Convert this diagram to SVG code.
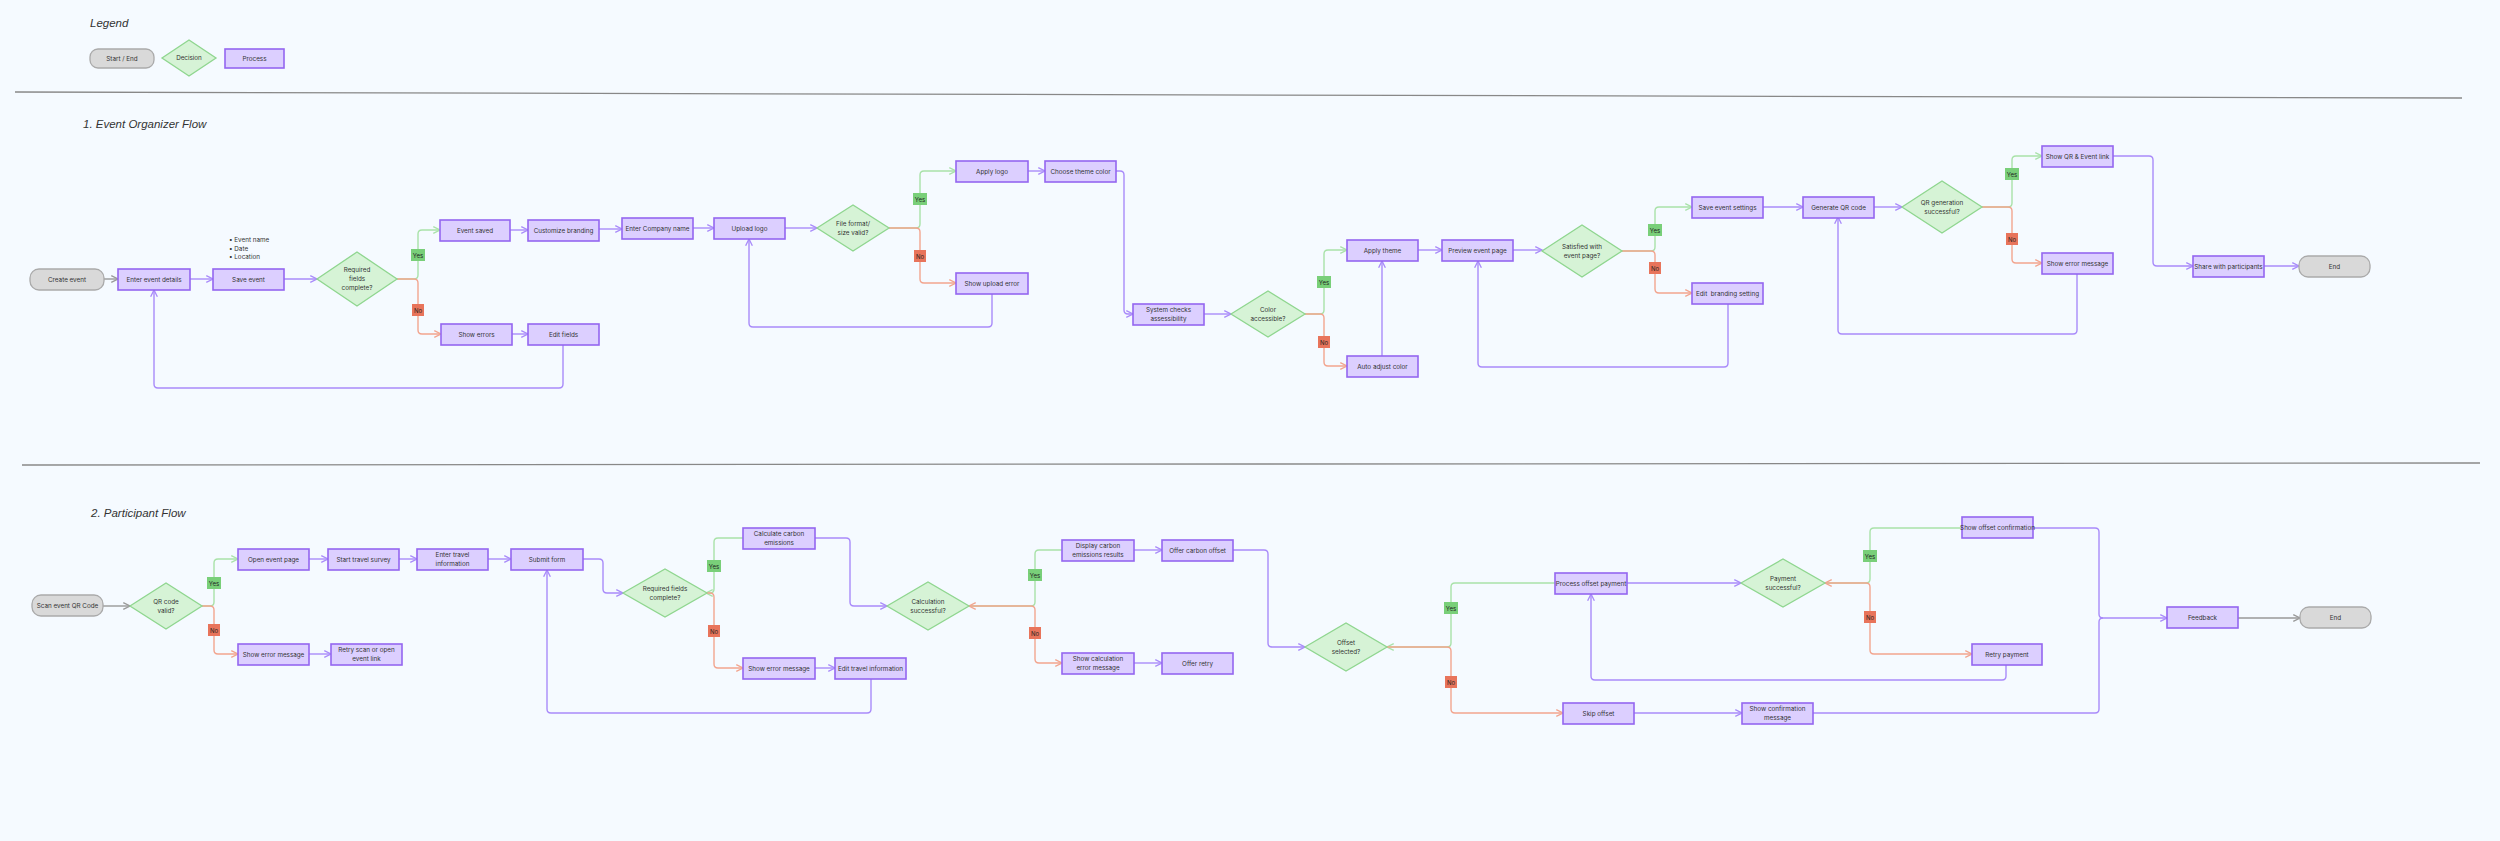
<svg xmlns="http://www.w3.org/2000/svg" width="2500" height="841" viewBox="0 0 2500 841">
<style>
.p{fill:#dccfff;stroke:#9466f0;stroke-width:1.6}
.d{fill:#d6f3d6;stroke:#8fd68f;stroke-width:1.3}
.s{fill:#d9d9d9;stroke:#aaaaaa;stroke-width:1.3}
text{font-family:Inter,"Liberation Sans",sans-serif;font-size:6.3px;fill:#333;text-anchor:middle;dominant-baseline:central}
.h{font-family:"Liberation Sans",sans-serif;font-style:italic;font-size:11.5px;text-anchor:start;fill:#333}
.c{fill:none;stroke-width:1.4}
.pu{stroke:#a98bfa;marker-end:url(#ap)}
.pn{stroke:#a98bfa}
.g{stroke:#a9e2a9}
.gm{stroke:#a9e2a9;marker-end:url(#ag)}
.r{stroke:#f2a58f;marker-end:url(#ar)}
.rs{marker-start:url(#ar)}
.gr{stroke:#999;marker-end:url(#agr)}
.ly{fill:#79cf79}.ln{fill:#e8745b}
.lt{font-size:6px;fill:#222}
</style>
<defs>
<marker id="ap" viewBox="0 0 10 10" refX="9" refY="5" markerWidth="6" markerHeight="6" orient="auto-start-reverse"><path d="M1,1 L9,5 L1,9" fill="none" stroke="#a98bfa" stroke-width="1.6"/></marker>
<marker id="ag" viewBox="0 0 10 10" refX="9" refY="5" markerWidth="6" markerHeight="6" orient="auto-start-reverse"><path d="M1,1 L9,5 L1,9" fill="none" stroke="#a9e2a9" stroke-width="1.6"/></marker>
<marker id="ar" viewBox="0 0 10 10" refX="9" refY="5" markerWidth="6" markerHeight="6" orient="auto-start-reverse"><path d="M1,1 L9,5 L1,9" fill="none" stroke="#f2a58f" stroke-width="1.6"/></marker>
<marker id="agr" viewBox="0 0 10 10" refX="9" refY="5" markerWidth="6" markerHeight="6" orient="auto-start-reverse"><path d="M1,1 L9,5 L1,9" fill="none" stroke="#999" stroke-width="1.6"/></marker>
</defs>
<rect width="2500" height="841" fill="#f5faff"/>

<g id="legend">
<text class="h" x="90" y="23">Legend</text>
<rect class="s" x="90" y="49" width="64" height="19" rx="8"/><text x="122" y="58.5">Start / End</text>
<polygon class="d" points="162,58 189,40 216,58 189,76"/><text x="189" y="58">Decision</text>
<rect class="p" x="225" y="49" width="59" height="19"/><text x="254.5" y="58.5">Process</text>
</g>
<g id="dividers">
<line x1="15" y1="92" x2="2462" y2="98" stroke="#888" stroke-width="1.3"/>
<line x1="22" y1="465" x2="2480" y2="463" stroke="#888" stroke-width="1.3"/>
<text class="h" x="83" y="124">1. Event Organizer Flow</text>
<text class="h" x="91" y="513">2. Participant Flow</text>
</g>

<g id="connectors">
<path class="c gr" d="M104,279 H118"/>
<path class="c pu" d="M190,279 H213"/>
<path class="c pu" d="M284,279 H317"/>
<path class="c gm" d="M397,279 H414 Q418,279 418,275 V234 Q418,230 422,230 H440"/>
<path class="c r" d="M397,279 H414 Q418,279 418,283 V330 Q418,334 422,334 H441"/>
<path class="c pu" d="M510,230 H528"/>
<path class="c pu" d="M599,229 H622"/>
<path class="c pu" d="M512,334 H528"/>
<path class="c pu" d="M563,345 V384 Q563,388 559,388 H158 Q154,388 154,384 V290"/>
<path class="c pu" d="M693,228 H714"/>
<path class="c pu" d="M785,228 H817"/>
<path class="c gm" d="M889,228 H916 Q920,228 920,224 V175 Q920,171 924,171 H956"/>
<path class="c r" d="M889,228 H916 Q920,228 920,232 V279 Q920,283 924,283 H956"/>
<path class="c pu" d="M1028,171 H1045"/>
<path class="c pu" d="M1116,171 H1120 Q1124,171 1124,175 V310 Q1124,314 1128,314 H1133"/>
<path class="c pu" d="M992,294 V323 Q992,327 988,327 H753 Q749,327 749,323 V239"/>
<path class="c pu" d="M1204,314 H1231"/>
<path class="c gm" d="M1305,314 H1320 Q1324,314 1324,310 V254 Q1324,250 1328,250 H1347"/>
<path class="c r" d="M1305,314 H1320 Q1324,314 1324,318 V362 Q1324,366 1328,366 H1347"/>
<path class="c pu" d="M1382,356 V261"/>
<path class="c pu" d="M1418,250 H1442"/>
<path class="c pu" d="M1513,250 H1542"/>
<path class="c gm" d="M1622,251 H1651 Q1655,251 1655,247 V211 Q1655,207 1659,207 H1692"/>
<path class="c r" d="M1622,251 H1651 Q1655,251 1655,255 V289 Q1655,293 1659,293 H1692"/>
<path class="c pu" d="M1728,304 V363 Q1728,367 1724,367 H1482 Q1478,367 1478,363 V261"/>
<path class="c pu" d="M1763,207 H1803"/>
<path class="c pu" d="M1874,207 H1902"/>
<path class="c gm" d="M1982,207 H2008 Q2012,207 2012,203 V160 Q2012,156 2016,156 H2042"/>
<path class="c r" d="M1982,207 H2008 Q2012,207 2012,211 V259 Q2012,263 2016,263 H2042"/>
<path class="c pu" d="M2077,274 V330 Q2077,334 2073,334 H1842 Q1838,334 1838,330 V217"/>
<path class="c pu" d="M2113,156 H2149 Q2153,156 2153,160 V262 Q2153,266 2157,266 H2193"/>
<path class="c pu" d="M2264,266 H2299"/>

<path class="c gr" d="M103,606 H130"/>
<path class="c gm" d="M202,606 H210 Q214,606 214,602 V563 Q214,559 218,559 H238"/>
<path class="c r" d="M202,606 H210 Q214,606 214,610 V650 Q214,654 218,654 H238"/>
<path class="c pu" d="M309,559 H328"/>
<path class="c pu" d="M399,559 H417"/>
<path class="c pu" d="M488,559 H511"/>
<path class="c pu" d="M309,654 H331"/>
<path class="c pu" d="M583,559 H599 Q603,559 603,563 V589 Q603,593 607,593 H623"/>
<path class="c gm" d="M743,538 H718 Q714,538 714,542 V589 Q714,593 710,593 H706"/>
<path class="c r" d="M706,593 H710 Q714,593 714,597 V664 Q714,668 718,668 H743"/>
<path class="c pu" d="M815,668 H835"/>
<path class="c pu" d="M871,679 V709 Q871,713 867,713 H551 Q547,713 547,709 V570"/>
<path class="c pu" d="M815,538 H846 Q850,538 850,542 V602 Q850,606 854,606 H887"/>
<path class="c g" d="M1062,550 H1039 Q1035,550 1035,554 V602 Q1035,606 1031,606 H969"/>
<path class="c r rs" d="M969,606 H1031 Q1035,606 1035,610 V659 Q1035,663 1039,663 H1062"/>
<path class="c pu" d="M1134,550 H1162"/>
<path class="c pu" d="M1134,663 H1162"/>
<path class="c pu" d="M1233,550 H1264 Q1268,550 1268,554 V643 Q1268,647 1272,647 H1305"/>
<path class="c gm" d="M1555,583 H1455 Q1451,583 1451,587 V643 Q1451,647 1447,647 H1387"/>
<path class="c r" d="M1387,647 H1447 Q1451,647 1451,651 V709 Q1451,713 1455,713 H1563"/>
<path class="c pu" d="M1627,583 H1741"/>
<path class="c g" d="M1962,528 H1874 Q1870,528 1870,532 V579 Q1870,583 1866,583 H1825"/>
<path class="c r rs" d="M1825,583 H1866 Q1870,583 1870,587 V650 Q1870,654 1874,654 H1972"/>
<path class="c pu" d="M2006,665 V676 Q2006,680 2002,680 H1595 Q1591,680 1591,676 V594"/>
<path class="c pu" d="M1634,713 H1742"/>
<path class="c pu" d="M2033,528 H2095 Q2099,528 2099,532 V614 Q2099,618 2103,618 H2167"/>
<path class="c pn" d="M1813,713 H2095 Q2099,713 2099,709 V622 Q2099,618 2103,618"/>
<path class="c gr" d="M2238,618 H2300"/>

<g id="labels">
<rect class="ly" x="411" y="249" width="14" height="12"/><text class="lt" x="418" y="255">Yes</text>
<rect class="ln" x="412" y="304" width="12" height="12"/><text class="lt" x="418" y="310">No</text>
<rect class="ly" x="913" y="193" width="14" height="12"/><text class="lt" x="920" y="199">Yes</text>
<rect class="ln" x="914" y="250" width="12" height="12"/><text class="lt" x="920" y="256">No</text>
<rect class="ly" x="1317" y="276" width="14" height="12"/><text class="lt" x="1324" y="282">Yes</text>
<rect class="ln" x="1318" y="336" width="12" height="12"/><text class="lt" x="1324" y="342">No</text>
<rect class="ly" x="1648" y="224" width="14" height="12"/><text class="lt" x="1655" y="230">Yes</text>
<rect class="ln" x="1649" y="262" width="12" height="12"/><text class="lt" x="1655" y="268">No</text>
<rect class="ly" x="2005" y="168" width="14" height="12"/><text class="lt" x="2012" y="174">Yes</text>
<rect class="ln" x="2006" y="233" width="12" height="12"/><text class="lt" x="2012" y="239">No</text>
<rect class="ly" x="207" y="577" width="14" height="12"/><text class="lt" x="214" y="583">Yes</text>
<rect class="ln" x="208" y="624" width="12" height="12"/><text class="lt" x="214" y="630">No</text>
<rect class="ly" x="707" y="560" width="14" height="12"/><text class="lt" x="714" y="566">Yes</text>
<rect class="ln" x="708" y="625" width="12" height="12"/><text class="lt" x="714" y="631">No</text>
<rect class="ly" x="1028" y="569" width="14" height="12"/><text class="lt" x="1035" y="575">Yes</text>
<rect class="ln" x="1029" y="627" width="12" height="12"/><text class="lt" x="1035" y="633">No</text>
<rect class="ly" x="1444" y="602" width="14" height="12"/><text class="lt" x="1451" y="608">Yes</text>
<rect class="ln" x="1445" y="676" width="12" height="12"/><text class="lt" x="1451" y="682">No</text>
<rect class="ly" x="1863" y="550" width="14" height="12"/><text class="lt" x="1870" y="556">Yes</text>
<rect class="ln" x="1864" y="611" width="12" height="12"/><text class="lt" x="1870" y="617">No</text>
</g>
</g>

<g id="note-details"><text x="229" y="240" style="text-anchor:start">•  Event name</text><text x="229" y="249" style="text-anchor:start">•  Date</text><text x="229" y="257" style="text-anchor:start">•  Location</text></g>

<g id="n-create"><rect class="s" x="30" y="269" width="74" height="21" rx="9"/><text x="67" y="279.5">Create event</text></g>
<g id="n-enter"><rect class="p" x="118" y="269" width="72" height="21"/><text x="154" y="279.5">Enter event details</text></g>
<g id="n-save"><rect class="p" x="213" y="269" width="71" height="21"/><text x="248.5" y="279.5">Save event</text></g>
<g id="d-req"><polygon class="d" points="317,279 357,252 397,279 357,306"/><text x="357" y="270">Required</text><text x="357" y="279">fields</text><text x="357" y="288">complete?</text></g>
<g id="n-saved"><rect class="p" x="440" y="220" width="70" height="21"/><text x="475" y="230.5">Event saved</text></g>
<g id="n-custom"><rect class="p" x="528" y="220" width="71" height="21"/><text x="563.5" y="230.5">Customize branding</text></g>
<g id="n-errors"><rect class="p" x="441" y="324" width="71" height="21"/><text x="476.5" y="334.5">Show errors</text></g>
<g id="n-editf"><rect class="p" x="528" y="324" width="71" height="21"/><text x="563.5" y="334.5">Edit fields</text></g>
<g id="n-company"><rect class="p" x="622" y="218" width="71" height="21"/><text x="657.5" y="228.5">Enter Company name</text></g>
<g id="n-upload"><rect class="p" x="714" y="218" width="71" height="21"/><text x="749.5" y="228.5">Upload logo</text></g>
<g id="d-file"><polygon class="d" points="817,228 853,205 889,228 853,251"/><text x="853" y="224">File format/</text><text x="853" y="233">size valid?</text></g>
<g id="n-applylogo"><rect class="p" x="956" y="161" width="72" height="21"/><text x="992" y="171.5">Apply logo</text></g>
<g id="n-theme"><rect class="p" x="1045" y="161" width="71" height="21"/><text x="1080.5" y="171.5">Choose theme color</text></g>
<g id="n-uperr"><rect class="p" x="956" y="273" width="72" height="21"/><text x="992" y="283.5">Show upload error</text></g>
<g id="n-syscheck"><rect class="p" x="1133" y="304" width="71" height="21"/><text x="1168.5" y="310">System checks</text><text x="1168.5" y="319">assessibility</text></g>
<g id="d-color"><polygon class="d" points="1231,314 1268,291 1305,314 1268,337"/><text x="1268" y="310">Color</text><text x="1268" y="319">accessible?</text></g>
<g id="n-applytheme"><rect class="p" x="1347" y="240" width="71" height="21"/><text x="1382.5" y="250.5">Apply theme</text></g>
<g id="n-auto"><rect class="p" x="1347" y="356" width="71" height="21"/><text x="1382.5" y="366.5">Auto adjust color</text></g>
<g id="n-preview"><rect class="p" x="1442" y="240" width="71" height="21"/><text x="1477.5" y="250.5">Preview event page</text></g>
<g id="d-sat"><polygon class="d" points="1542,251 1582,225 1622,251 1582,277"/><text x="1582" y="246.5">Satisfied with</text><text x="1582" y="255.5">event page?</text></g>
<g id="n-savesettings"><rect class="p" x="1692" y="197" width="71" height="21"/><text x="1727.5" y="207.5">Save event settings</text></g>
<g id="n-editbrand"><rect class="p" x="1692" y="283" width="71" height="21"/><text x="1727.5" y="293.5" style="white-space:pre">Edit  branding setting</text></g>
<g id="n-genqr"><rect class="p" x="1803" y="197" width="71" height="21"/><text x="1838.5" y="207.5">Generate QR code</text></g>
<g id="d-qr"><polygon class="d" points="1902,207 1942,181 1982,207 1942,233"/><text x="1942" y="202.5">QR generation</text><text x="1942" y="211.5">successful?</text></g>
<g id="n-showqr"><rect class="p" x="2042" y="146" width="71" height="21"/><text x="2077.5" y="156.5">Show QR &amp; Event link</text></g>
<g id="n-showerr"><rect class="p" x="2042" y="253" width="71" height="21"/><text x="2077.5" y="263.5">Show error message</text></g>
<g id="n-share"><rect class="p" x="2193" y="256" width="71" height="21"/><text x="2228.5" y="266.5">Share with participants</text></g>
<g id="n-end1"><rect class="s" x="2299" y="256" width="71" height="21" rx="9"/><text x="2334.5" y="266.5">End</text></g>

<g id="n-scan"><rect class="s" x="32" y="595" width="71" height="21" rx="9"/><text x="67.5" y="605.5">Scan event QR Code</text></g>
<g id="d-qrvalid"><polygon class="d" points="130,606 166,583 202,606 166,629"/><text x="166" y="601.5">QR code</text><text x="166" y="610.5">valid?</text></g>
<g id="n-open"><rect class="p" x="238" y="549" width="71" height="21"/><text x="273.5" y="559.5">Open event page</text></g>
<g id="n-start"><rect class="p" x="328" y="549" width="71" height="21"/><text x="363.5" y="559.5">Start travel survey</text></g>
<g id="n-entertravel"><rect class="p" x="417" y="549" width="71" height="21"/><text x="452.5" y="555">Enter travel</text><text x="452.5" y="564">information</text></g>
<g id="n-submit"><rect class="p" x="511" y="549" width="72" height="21"/><text x="547" y="559.5">Submit form</text></g>
<g id="n-showerr2"><rect class="p" x="238" y="644" width="71" height="21"/><text x="273.5" y="654.5">Show error message</text></g>
<g id="n-retry"><rect class="p" x="331" y="644" width="71" height="21"/><text x="366.5" y="650">Retry scan or open</text><text x="366.5" y="659">event link</text></g>
<g id="d-reqf"><polygon class="d" points="623,593 665,569 707,593 665,617"/><text x="665" y="588.5">Required fields</text><text x="665" y="597.5">complete?</text></g>
<g id="n-calc"><rect class="p" x="743" y="528" width="72" height="21"/><text x="779" y="534">Calculate carbon</text><text x="779" y="543">emissions</text></g>
<g id="n-showerr3"><rect class="p" x="743" y="658" width="72" height="21"/><text x="779" y="668.5">Show error message</text></g>
<g id="n-edittravel"><rect class="p" x="835" y="658" width="71" height="21"/><text x="870.5" y="668.5">Edit travel information</text></g>
<g id="d-calc"><polygon class="d" points="887,606 928,582 969,606 928,630"/><text x="928" y="601.5">Calculation</text><text x="928" y="610.5">successful?</text></g>
<g id="n-display"><rect class="p" x="1062" y="540" width="72" height="21"/><text x="1098" y="546">Display carbon</text><text x="1098" y="555">emissions results</text></g>
<g id="n-offer"><rect class="p" x="1162" y="540" width="71" height="21"/><text x="1197.5" y="550.5">Offer carbon offset</text></g>
<g id="n-showcalcerr"><rect class="p" x="1062" y="653" width="72" height="21"/><text x="1098" y="659">Show calculation</text><text x="1098" y="668">error message</text></g>
<g id="n-offerretry"><rect class="p" x="1162" y="653" width="71" height="21"/><text x="1197.5" y="663.5">Offer retry</text></g>
<g id="d-offset"><polygon class="d" points="1305,647 1346,623 1387,647 1346,671"/><text x="1346" y="642.5">Offset</text><text x="1346" y="651.5">selected?</text></g>
<g id="n-process"><rect class="p" x="1555" y="573" width="72" height="21"/><text x="1591" y="583.5">Process offset payment</text></g>
<g id="d-pay"><polygon class="d" points="1741,583 1783,559 1825,583 1783,607"/><text x="1783" y="578.5">Payment</text><text x="1783" y="587.5">successful?</text></g>
<g id="n-skip"><rect class="p" x="1563" y="703" width="71" height="21"/><text x="1598.5" y="713.5">Skip offset</text></g>
<g id="n-showconf"><rect class="p" x="1742" y="703" width="71" height="21"/><text x="1777.5" y="709">Show confirmation</text><text x="1777.5" y="718">message</text></g>
<g id="n-showoffconf"><rect class="p" x="1962" y="517" width="71" height="21"/><text x="1997.5" y="527.5">Show offset confirmation</text></g>
<g id="n-retrypay"><rect class="p" x="1972" y="644" width="70" height="21"/><text x="2007" y="654.5">Retry payment</text></g>
<g id="n-feedback"><rect class="p" x="2167" y="607" width="71" height="21"/><text x="2202.5" y="617.5">Feedback</text></g>
<g id="n-end2"><rect class="s" x="2300" y="607" width="71" height="21" rx="9"/><text x="2335.5" y="617.5">End</text></g>
</svg>
